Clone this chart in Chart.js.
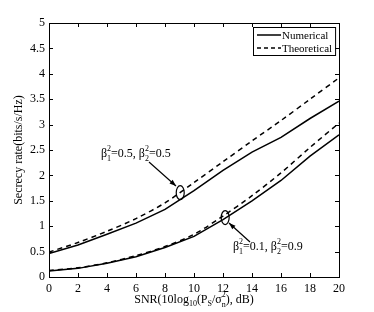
<!DOCTYPE html>
<html>
<head>
<meta charset="utf-8">
<script src="https://cdn.jsdelivr.net/npm/chart.js@4"></script>
<style>
  html, body { margin: 0; padding: 0; background: #fff; }
  #wrap { width: 374px; height: 312px; }
</style>
</head>
<body>
<div id="wrap"><canvas id="chartCanvas" width="374" height="312"></canvas></div>
<script>
"use strict";

// SNR in dB
const snr = [0, 2, 4, 6, 8, 10, 12, 14, 16, 18, 20];
// beta1^2 = 0.5, beta2^2 = 0.5
const numA = [0.46, 0.63, 0.84, 1.06, 1.33, 1.70, 2.10, 2.46, 2.75, 3.12, 3.46];
const theoA = [0.49, 0.68, 0.90, 1.15, 1.46, 1.86, 2.27, 2.68, 3.08, 3.50, 3.92];
// beta1^2 = 0.1, beta2^2 = 0.9
const numB = [0.12, 0.17, 0.27, 0.40, 0.58, 0.80, 1.13, 1.50, 1.90, 2.38, 2.80];
const theoB = [0.13, 0.18, 0.28, 0.42, 0.60, 0.84, 1.20, 1.60, 2.05, 2.55, 3.03];

const legendNames = ["Numerical", "Theoretical"];
const FONT = "'Liberation Serif', 'Times New Roman', serif";

function pts(ys) {
    return snr.map((x, i) => ({ x: x, y: ys[i] }));
}

// frame, inward ticks, legend box, annotations, x title
const decor = {
    id: "decor",
    afterDraw(chart) {
        const c = chart.ctx;
        const a = chart.chartArea;
        const xs = chart.scales.x, ys = chart.scales.y;
        c.save();
        c.strokeStyle = "#000";
        c.lineWidth = 1;
        c.strokeRect(Math.round(a.left) + 0.5, Math.round(a.top) + 0.5,
            Math.round(a.right - a.left), Math.round(a.bottom - a.top));

        c.beginPath();
        xs.ticks.forEach(t => {
            const p = Math.round(xs.getPixelForValue(t.value)) + 0.5;
            c.moveTo(p, a.bottom); c.lineTo(p, a.bottom - 4);
            c.moveTo(p, a.top); c.lineTo(p, a.top + 4);
        });
        ys.ticks.forEach(t => {
            const p = Math.round(ys.getPixelForValue(t.value)) + 0.5;
            c.moveTo(a.left, p); c.lineTo(a.left + 4, p);
            c.moveTo(a.right, p); c.lineTo(a.right - 4, p);
        });
        c.stroke();

        // legend
        c.font = "11px " + FONT;
        const tw = Math.max(...legendNames.map(n => c.measureText(n).width));
        const lw = 29 + tw + 3;
        const lx = Math.round(a.right - lw - 4), ly = Math.round(a.top + 4);
        c.fillStyle = "#fff";
        c.fillRect(lx, ly, lw, 28);
        c.strokeRect(lx + 0.5, ly + 0.5, lw, 28);
        c.fillStyle = "#000";
        c.textBaseline = "middle";
        c.lineWidth = 1.5;
        legendNames.forEach((name, i) => {
            const yy = ly + 8 + i * 13;
            c.setLineDash(i === 0 ? [] : [4, 3]);
            c.beginPath();
            c.moveTo(lx + 4, yy); c.lineTo(lx + 28, yy);
            c.stroke();
            c.setLineDash([]);
            c.fillText(name, lx + 29, yy + 1);
        });

        // annotations
        c.lineWidth = 1.2;
        const ellipse = (x, y) => {
            c.beginPath();
            c.ellipse(xs.getPixelForValue(x), ys.getPixelForValue(y), 4, 7, 0, 0, Math.PI * 2);
            c.stroke();
        };
        const arrow = (x1, y1, x2, y2) => {
            c.beginPath();
            c.moveTo(x1, y1); c.lineTo(x2, y2); c.stroke();
            const ang = Math.atan2(y2 - y1, x2 - x1);
            c.beginPath();
            c.moveTo(x2, y2);
            c.lineTo(x2 - 7 * Math.cos(ang - 0.35), y2 - 7 * Math.sin(ang - 0.35));
            c.lineTo(x2 - 7 * Math.cos(ang + 0.35), y2 - 7 * Math.sin(ang + 0.35));
            c.closePath(); c.fill();
        };
        ellipse(9.05, 1.66);
        ellipse(12.15, 1.17);
        arrow(149, 162, 176, 186);
        arrow(250, 242, 229, 223);

        const beta = (x, y, v1, v2) => {
            c.textBaseline = "alphabetic";
            const parts = [
                ["\u03B2", 12, 0], ["1", 8, 4, "2", -6], ["=" + v1 + ", ", 12, 0],
                ["\u03B2", 12, 0], ["2", 8, 4, "2", -6], ["=" + v2, 12, 0]
            ];
            let cx = x;
            parts.forEach(p => {
                c.font = p[1] + "px " + FONT;
                c.fillText(p[0], cx, y + p[2]);
                let w = c.measureText(p[0]).width;
                if (p[3]) {
                    c.fillText(p[3], cx, y + p[4]);
                    w = Math.max(w, c.measureText(p[3]).width);
                }
                cx += w;
            });
        };
        beta(101, 157, "0.5", "0.5");
        beta(233, 250, "0.1", "0.9");

        // x axis title with sub/superscripts
        const segs = [
            ["SNR(10log", 12, 0], ["10", 8, 3], ["(P", 12, 0], ["S", 8, 3],
            ["/\u03C3", 12, 0], ["n", 8, 4, "2", -6], ["), dB)", 12, 0]
        ];
        let total = 0;
        segs.forEach(s => {
            c.font = s[1] + "px " + FONT;
            let w = c.measureText(s[0]).width;
            if (s[3]) w = Math.max(w, c.measureText(s[3]).width);
            total += w;
        });
        let cx = (a.left + a.right) / 2 - total / 2;
        const by = 303;
        segs.forEach(s => {
            c.font = s[1] + "px " + FONT;
            c.fillText(s[0], cx, by + s[2]);
            let w = c.measureText(s[0]).width;
            if (s[3]) {
                c.fillText(s[3], cx, by + s[4]);
                w = Math.max(w, c.measureText(s[3]).width);
            }
            cx += w;
        });
        c.restore();
    }
};

const ctx = document.getElementById("chartCanvas");

const solid = { borderColor: "#000", borderWidth: 1.5, pointRadius: 0, fill: false, tension: 0 };
const dashed = { borderColor: "#000", borderWidth: 1.5, pointRadius: 0, fill: false, tension: 0.3, borderDash: [5, 4] };

new Chart(ctx, {
    type: "line",
    data: {
        datasets: [
            Object.assign({ label: legendNames[0], data: pts(numA) }, solid),
            Object.assign({ label: legendNames[1], data: pts(theoA) }, dashed),
            Object.assign({ label: legendNames[0] + " b", data: pts(numB) }, solid),
            Object.assign({ label: legendNames[1] + " b", data: pts(theoB) }, dashed)
        ]
    },
    options: {
        responsive: false,
        animation: false,
        layout: { padding: { left: 0, right: 35, top: 23, bottom: 0 } },
        plugins: { legend: { display: false }, tooltip: { enabled: false } },
        scales: {
            x: {
                type: "linear",
                min: 0, max: 20,
                grid: { display: false, drawTicks: false },
                border: { display: false },
                ticks: { stepSize: 2, padding: 5, color: "#000", font: { family: FONT, size: 12 } },
                afterFit(s) { s.height = 35; }
            },
            y: {
                min: 0, max: 5,
                grid: { display: false, drawTicks: false },
                border: { display: false },
                ticks: {
                    stepSize: 0.5, padding: 4, color: "#000", font: { family: FONT, size: 12 },
                    callback: v => String(Number(v.toFixed(2)))
                },
                title: {
                    display: true, text: "Secrecy rate(bits/s/Hz)", color: "#000",
                    font: { family: FONT, size: 12 }, padding: { top: 12, bottom: 0 }
                },
                afterFit(s) { s.width = 49; }
            }
        }
    },
    plugins: [decor]
});
</script>
</body>
</html>
